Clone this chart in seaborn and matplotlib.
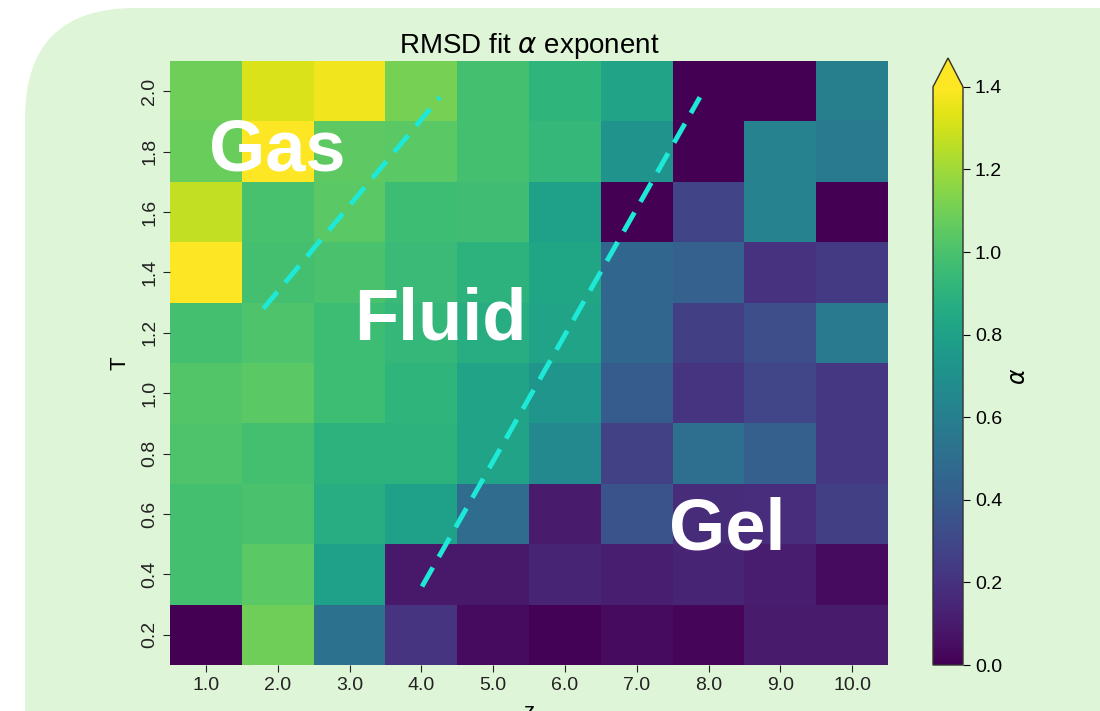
import numpy as np
import pandas as pd
import matplotlib
matplotlib.use("Agg")
import matplotlib.pyplot as plt
import seaborn as sns
from matplotlib.patches import FancyBboxPatch

plt.rcParams['font.family'] = ['Liberation Sans', 'DejaVu Sans']

z_values = [1.0, 2.0, 3.0, 4.0, 5.0, 6.0, 7.0, 8.0, 9.0, 10.0]
T_values = [2.0, 1.8, 1.6, 1.4, 1.2, 1.0, 0.8, 0.6, 0.4, 0.2]

alpha_T20 = [1.09, 1.32, 1.37, 1.11, 0.98, 0.91, 0.81, 0.00, 0.00, 0.60]
alpha_T18 = [1.08, 1.45, 1.05, 1.04, 0.98, 0.93, 0.72, 0.00, 0.62, 0.57]
alpha_T16 = [1.27, 0.99, 1.04, 0.96, 0.97, 0.79, 0.00, 0.28, 0.62, 0.00]
alpha_T14 = [1.42, 0.98, 1.00, 0.95, 0.90, 0.83, 0.46, 0.43, 0.20, 0.24]
alpha_T12 = [0.98, 1.01, 0.96, 0.93, 0.87, 0.81, 0.46, 0.26, 0.33, 0.57]
alpha_T10 = [1.02, 1.04, 0.96, 0.91, 0.81, 0.73, 0.40, 0.21, 0.29, 0.22]
alpha_T08 = [1.01, 0.98, 0.90, 0.90, 0.81, 0.66, 0.27, 0.50, 0.42, 0.22]
alpha_T06 = [0.98, 1.00, 0.87, 0.79, 0.49, 0.10, 0.36, 0.17, 0.18, 0.26]
alpha_T04 = [0.98, 1.04, 0.79, 0.09, 0.09, 0.14, 0.12, 0.14, 0.11, 0.04]
alpha_T02 = [0.00, 1.09, 0.53, 0.21, 0.04, 0.01, 0.04, 0.02, 0.10, 0.10]

# phase boundary guide lines (z, T)
gas_fluid_z = [1.80, 4.26]
gas_fluid_T = [1.28, 1.98]
fluid_gel_z = [4.01, 7.88]
fluid_gel_T = [0.36, 1.98]

labels = [("Gas", 2.0, 1.80), ("Fluid", 4.27, 1.24), ("Gel", 8.26, 0.545)]

data = pd.DataFrame(
    [alpha_T20, alpha_T18, alpha_T16, alpha_T14, alpha_T12,
     alpha_T10, alpha_T08, alpha_T06, alpha_T04, alpha_T02],
    index=T_values, columns=z_values)

W, H = 1100, 711
fig = plt.figure(figsize=(W / 100, H / 100), dpi=100)
fig.patch.set_facecolor("white")
bg = FancyBboxPatch((25 / W, -0.2), 1.2, (711 - 8) / H + 0.2,
                    boxstyle="round,pad=0,rounding_size=0.1",
                    transform=fig.transFigure, facecolor="#dff5d8",
                    edgecolor="none", zorder=-10, mutation_aspect=W / H)
fig.patches.append(bg)

ax = fig.add_axes([170 / W, 1 - 665 / H, (888 - 170) / W, (665 - 61) / H])
cax = fig.add_axes([933 / W, 1 - 665 / H, 30 / W, (665 - 58) / H])

sns.heatmap(data, ax=ax, cbar_ax=cax, cmap="viridis", vmin=0, vmax=1.4,
            cbar_kws={"extend": "max", "label": r"$\alpha$"})

def zpos(z):
    return (np.asarray(z) - z_values[0]) / (z_values[1] - z_values[0]) + 0.5

def tpos(t):
    return (T_values[0] - np.asarray(t)) / (T_values[0] - T_values[1]) + 0.5

for zs, ts in [(gas_fluid_z, gas_fluid_T), (fluid_gel_z, fluid_gel_T)]:
    ax.plot(zpos(zs), tpos(ts), color="#1de9d6", lw=3.5, ls=(0, (4.5, 2.5)))

for txt, zz, tt in labels:
    ax.text(zpos(zz), tpos(tt), txt, color="white", fontsize=52,
            fontweight="bold", family="Liberation Sans", ha="center", va="center")

ax.set_xticklabels([f"{v:.1f}" for v in z_values], rotation=0, fontsize=14)
ax.set_yticklabels([f"{v:.1f}" for v in T_values], rotation=90, fontsize=14, va="center")
ax.tick_params(colors="#222222", length=5)
ax.set_xlabel("z", fontsize=16, labelpad=6)
ax.set_ylabel("T", fontsize=16, labelpad=8)
ax.set_title(r"RMSD fit $\alpha$ exponent", fontsize=20, pad=5)

cax.tick_params(labelsize=14, length=5)
cax.yaxis.label.set_size(17)
cb = ax.collections[0].colorbar
cb.outline.set_edgecolor("#333333")
cb.outline.set_linewidth(1)

fig.savefig("out.png", dpi=100)
